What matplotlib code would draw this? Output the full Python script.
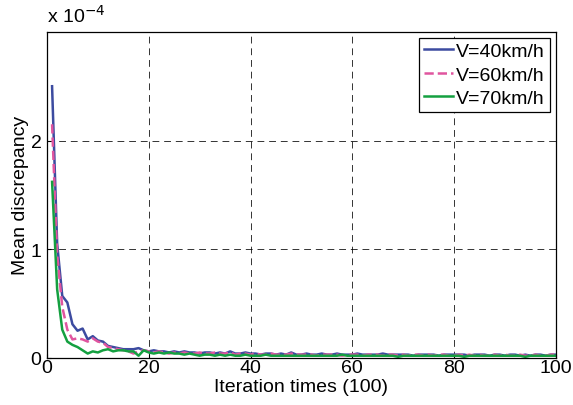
import numpy as np
import matplotlib.pyplot as plt

plt.rcParams['font.family'] = ['Liberation Sans', 'DejaVu Sans']

# iteration index (x100) and mean discrepancy (x 1e-4)
iters = np.arange(1, 101)

v40 = [2.50, 1.05, 0.57, 0.51, 0.31, 0.25, 0.27, 0.17, 0.20, 0.16,
       0.15, 0.11, 0.10, 0.09, 0.08, 0.08, 0.08, 0.09, 0.07, 0.06,
       0.07, 0.06, 0.06, 0.05, 0.06, 0.05, 0.06, 0.05, 0.05, 0.04,
       0.05, 0.05, 0.04, 0.05, 0.04, 0.06, 0.04, 0.04, 0.05, 0.04,
       0.04, 0.03, 0.04, 0.04, 0.03, 0.04, 0.03, 0.05, 0.03, 0.03,
       0.04, 0.03, 0.03, 0.04, 0.03, 0.03, 0.04, 0.03, 0.03, 0.03,
       0.04, 0.03, 0.03, 0.03, 0.03, 0.04, 0.03, 0.03, 0.03, 0.03,
       0.03, 0.02, 0.03, 0.03, 0.03, 0.03, 0.02, 0.03, 0.03, 0.03,
       0.03, 0.03, 0.02, 0.03, 0.03, 0.03, 0.02, 0.03, 0.03, 0.02,
       0.03, 0.03, 0.02, 0.03, 0.02, 0.03, 0.03, 0.02, 0.03, 0.03]

v60 = [2.15, 0.95, 0.47, 0.26, 0.17, 0.18, 0.17, 0.15, 0.18, 0.15,
       0.14, 0.10, 0.09, 0.08, 0.07, 0.06, 0.04, 0.06, 0.07, 0.06,
       0.05, 0.06, 0.05, 0.04, 0.05, 0.04, 0.05, 0.04, 0.04, 0.05,
       0.04, 0.04, 0.05, 0.04, 0.04, 0.05, 0.03, 0.04, 0.04, 0.03,
       0.04, 0.03, 0.03, 0.04, 0.03, 0.03, 0.03, 0.04, 0.03, 0.03,
       0.03, 0.03, 0.02, 0.03, 0.03, 0.03, 0.03, 0.02, 0.03, 0.03,
       0.03, 0.02, 0.03, 0.03, 0.03, 0.02, 0.03, 0.03, 0.02, 0.03,
       0.02, 0.03, 0.03, 0.02, 0.03, 0.02, 0.03, 0.03, 0.02, 0.02,
       0.03, 0.02, 0.03, 0.02, 0.03, 0.02, 0.02, 0.03, 0.02, 0.03,
       0.02, 0.02, 0.03, 0.02, 0.02, 0.03, 0.02, 0.02, 0.03, 0.03]

v70 = [1.62, 0.63, 0.26, 0.15, 0.12, 0.10, 0.07, 0.04, 0.06, 0.05,
       0.07, 0.08, 0.06, 0.07, 0.07, 0.06, 0.06, 0.02, 0.07, 0.05,
       0.04, 0.05, 0.04, 0.05, 0.04, 0.04, 0.03, 0.04, 0.03, 0.02,
       0.03, 0.03, 0.02, 0.03, 0.02, 0.03, 0.02, 0.02, 0.03, 0.02,
       0.02, 0.02, 0.03, 0.02, 0.02, 0.02, 0.02, 0.02, 0.02, 0.02,
       0.02, 0.02, 0.02, 0.02, 0.02, 0.02, 0.02, 0.03, 0.02, 0.02,
       0.02, 0.02, 0.02, 0.02, 0.02, 0.02, 0.02, 0.02, 0.01, 0.02,
       0.02, 0.02, 0.02, 0.02, 0.02, 0.02, 0.02, 0.02, 0.02, 0.02,
       0.02, 0.01, 0.02, 0.02, 0.02, 0.02, 0.02, 0.02, 0.02, 0.02,
       0.02, 0.02, 0.02, 0.01, 0.02, 0.02, 0.02, 0.02, 0.02, 0.02]

fig = plt.figure(figsize=(5.73, 4.06), dpi=100)
ax = fig.add_axes([0.082, 0.116, 0.888, 0.803])

ax.plot(iters, v40, color='#3c4ba0', lw=1.8, label='V=40km/h')
ax.plot(iters, v60, color='#e0559f', lw=1.8, ls='--', label='V=60km/h')
ax.plot(iters, v70, color='#14a040', lw=1.8, label='V=70km/h')

ax.set_xlim(0, 100)
ax.set_ylim(0, 3)
ax.set_xticks([0, 20, 40, 60, 80, 100])
ax.set_yticks([0, 1, 2])
ax.tick_params(direction='in', labelsize=14, length=3)
ax.tick_params(axis='x', pad=1)
ax.tick_params(axis='y', pad=4)
ax.grid(True, color='black', linestyle=(0, (7, 5)), linewidth=0.7, alpha=0.8)
for s in ax.spines.values():
    s.set_linewidth(0.9)

ax.set_xlabel('Iteration times (100)', fontsize=14, labelpad=1)
ax.set_ylabel('Mean discrepancy', fontsize=14, labelpad=1)
ax.text(0.0, 1.02, r'x 10$^{-4}$', transform=ax.transAxes, fontsize=14,
        ha='left', va='bottom')

leg = ax.legend(loc='upper right', fontsize=14, handlelength=1.5,
                handletextpad=0.15, borderpad=0.25, labelspacing=0.3,
                borderaxespad=0.3, fancybox=False, framealpha=1)
leg.get_frame().set_edgecolor('black')
leg.get_frame().set_linewidth(0.9)

fig.savefig('out.png', dpi=100)
